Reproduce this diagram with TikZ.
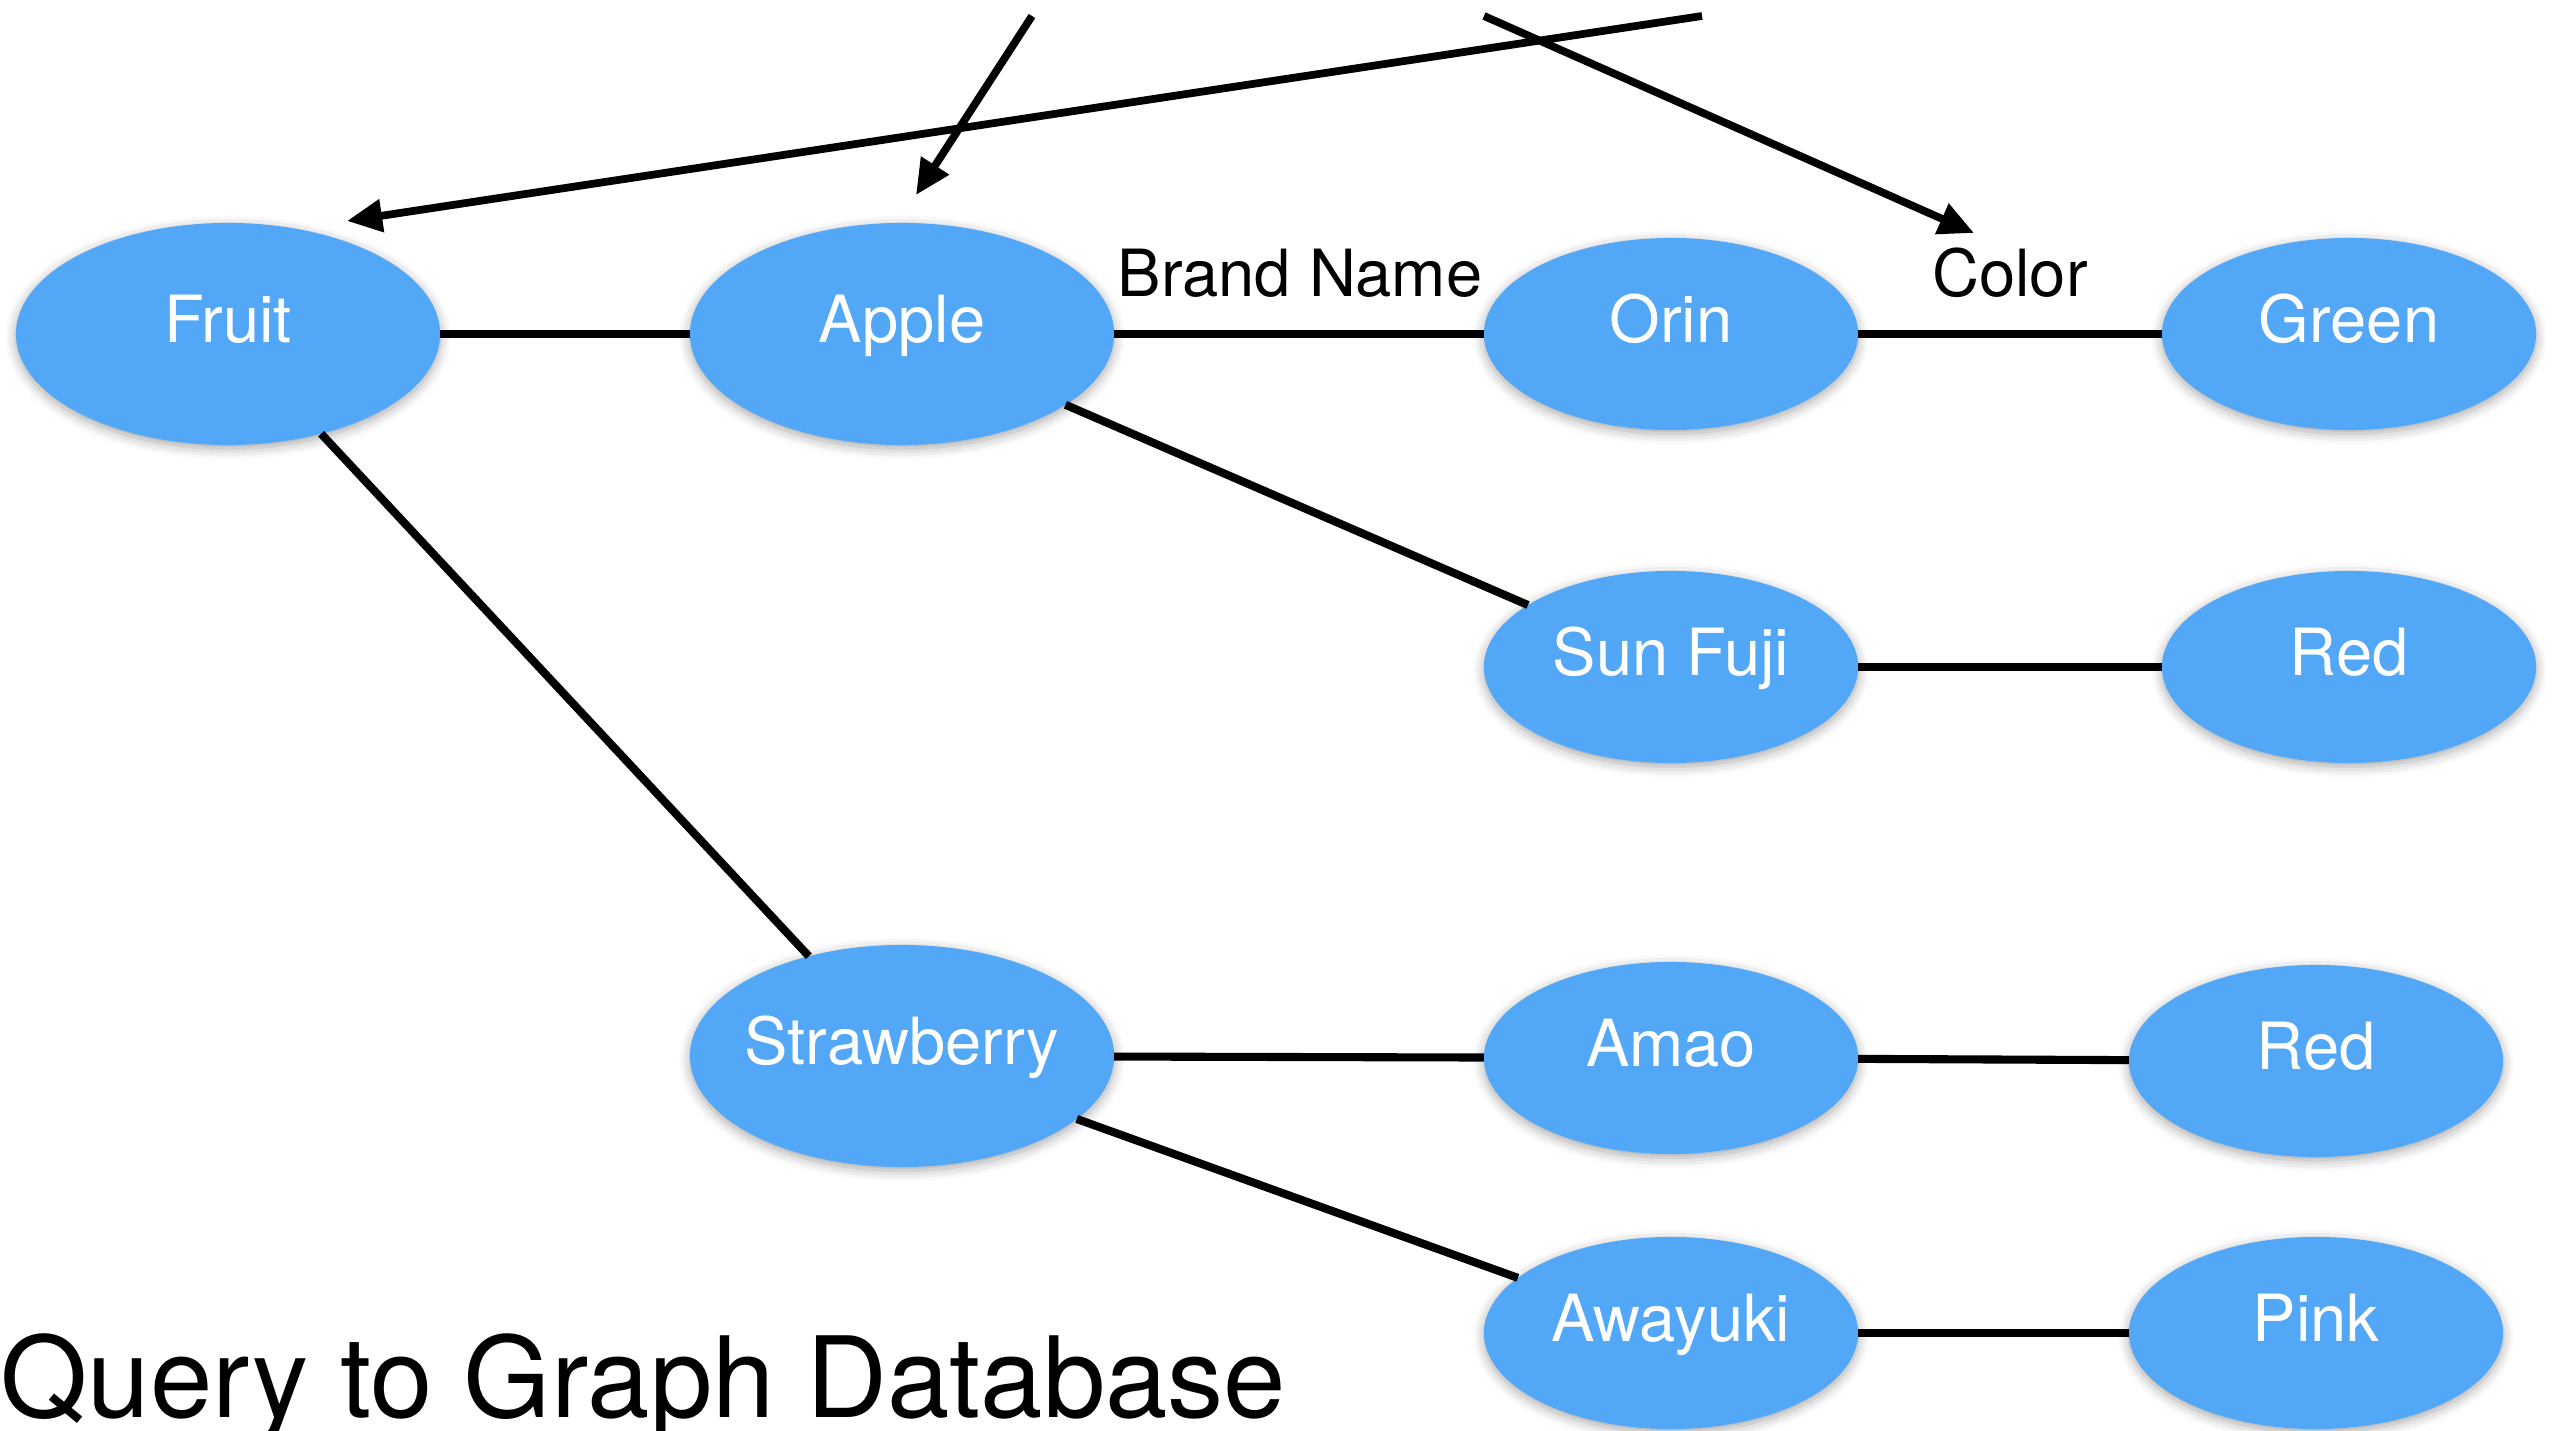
\documentclass[tikz,border=0pt]{standalone}
\usepackage{fontspec}
\setmainfont{TeX Gyre Heros}
\usetikzlibrary{shapes.geometric,arrows.meta,shadows.blur}
\definecolor{nodeblue}{RGB}{82,167,247}
\newcommand{\nt}[1]{\makebox[0pt]{#1}}
\tikzset{
  blob/.style={ellipse, fill=nodeblue, draw=none, inner sep=0pt, outer sep=0pt,
    text=white, font=\fontsize{18.5}{20}\selectfont, text height=13pt, text depth=8pt,
    blur shadow={shadow xshift=0pt, shadow yshift=-1pt, shadow blur radius=3pt, shadow opacity=35}},
  bigblob/.style={blob, minimum width=4.24cm, minimum height=2.22cm},
  smallblob/.style={blob, minimum width=3.74cm, minimum height=1.92cm},
  edge/.style={line width=2.3pt, black},
  qarrow/.style={line width=2.2pt, black, -{Triangle[length=10pt,width=9pt]}},
  elabel/.style={font=\fontsize{18.5}{20}\selectfont, text=black},
}
\begin{document}
\begin{tikzpicture}[x=0.01cm,y=-0.01cm]
\useasboundingbox (0,0) rectangle (2552,1431);
% nodes
\node[bigblob] (fruit) at (228,334) {\nt{Fruit}};
\node[bigblob] (apple) at (902,334) {\nt{Apple}};
\node[smallblob] (orin) at (1671,334) {\nt{Orin}};
\node[smallblob] (green) at (2349,334) {\nt{Green}};
\node[smallblob] (sunfuji) at (1671,667) {\nt{Sun Fuji}};
\node[smallblob] (red1) at (2349,667) {\nt{Red}};
\node[bigblob] (straw) at (902,1056) {\nt{Strawberry}};
\node[smallblob] (amao) at (1671,1058) {\nt{Amao}};
\node[smallblob] (red2) at (2316,1061) {\nt{Red}};
\node[smallblob] (awayuki) at (1671,1333) {\nt{Awayuki}};
\node[smallblob] (pink) at (2316,1333) {\nt{Pink}};
% edges
\draw[edge] (fruit) -- (apple);
\draw[edge] (apple) -- (orin);
\draw[edge] (orin) -- (green);
\draw[edge] (apple) -- (sunfuji);
\draw[edge] (sunfuji) -- (red1);
\draw[edge] (fruit) -- (straw);
\draw[edge] (straw) -- (amao);
\draw[edge] (amao) -- (red2);
\draw[edge] (straw) -- (awayuki);
\draw[edge] (awayuki) -- (pink);
% edge labels
\node[elabel] (brand) at (1300,273) {Brand Name};
\node[elabel] (color) at (2010,273) {Color};
% query arrows
\coordinate (s1) at (1702,16);
\coordinate (t1) at (347,221);
\coordinate (s2) at (1032,16);
\coordinate (t2) at (916,195);
\coordinate (s3) at (1484,16);
\coordinate (t3) at (1974,233);
\draw[qarrow] (s1) -- (t1);
\draw[qarrow] (s2) -- (t2);
\draw[qarrow] (s3) -- (t3);
% title
\node[anchor=base west, inner sep=0pt, font=\fontsize{31.9}{36}\selectfont] (title) at (0,1417) {Query to Graph Database};
\end{tikzpicture}
\end{document}
